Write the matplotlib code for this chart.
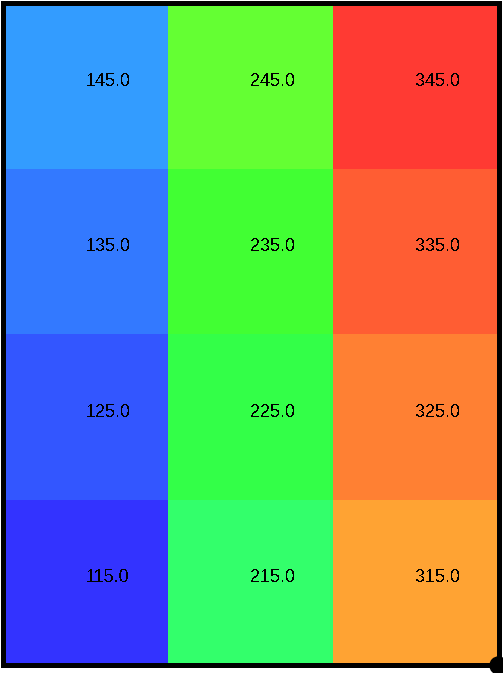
import numpy as np
import matplotlib
matplotlib.use("Agg")
import matplotlib.pyplot as plt
from matplotlib.colors import ListedColormap, Normalize, hsv_to_rgb

# cell values, rows bottom -> top, columns left -> right
values = np.array([
    [115.0, 215.0, 315.0],
    [125.0, 225.0, 325.0],
    [135.0, 235.0, 335.0],
    [145.0, 245.0, 345.0],
])

# colormap: hue sweeps blue -> green -> red, saturation 0.8
hues = np.linspace(240, 2, 256) / 360.0
hsv = np.stack([hues, np.full(256, 0.8), np.ones(256)], axis=1)
cmap = ListedColormap(hsv_to_rgb(hsv))
norm = Normalize(vmin=115, vmax=345)

plt.rcParams['font.family'] = ['Liberation Sans', 'DejaVu Sans']
plt.rcParams['text.antialiased'] = False

fig = plt.figure(figsize=(5.03, 6.73), dpi=100)
ax = fig.add_axes([2.5 / 503, 8 / 673, 496 / 503, 662 / 673])

nrows, ncols = values.shape
ax.pcolormesh(np.arange(ncols + 1), np.arange(nrows + 1), values,
              cmap=cmap, norm=norm, shading='flat', antialiased=False)

for r in range(nrows):
    for c in range(ncols):
        ax.text(c + 0.5, r + 0.5, f"{values[r, c]:.1f}", ha='left',
                va='baseline', fontsize=13, color='black')

ax.set_xlim(0, ncols)
ax.set_ylim(0, nrows)
ax.set_xticks([])
ax.set_yticks([])
for s in ax.spines.values():
    s.set_linewidth(3.6)
    s.set_color('black')

# marker on the bottom-right corner
ax.scatter([ncols], [0], s=150, color='black', clip_on=False, zorder=5)

fig.savefig("out.png", dpi=100)
